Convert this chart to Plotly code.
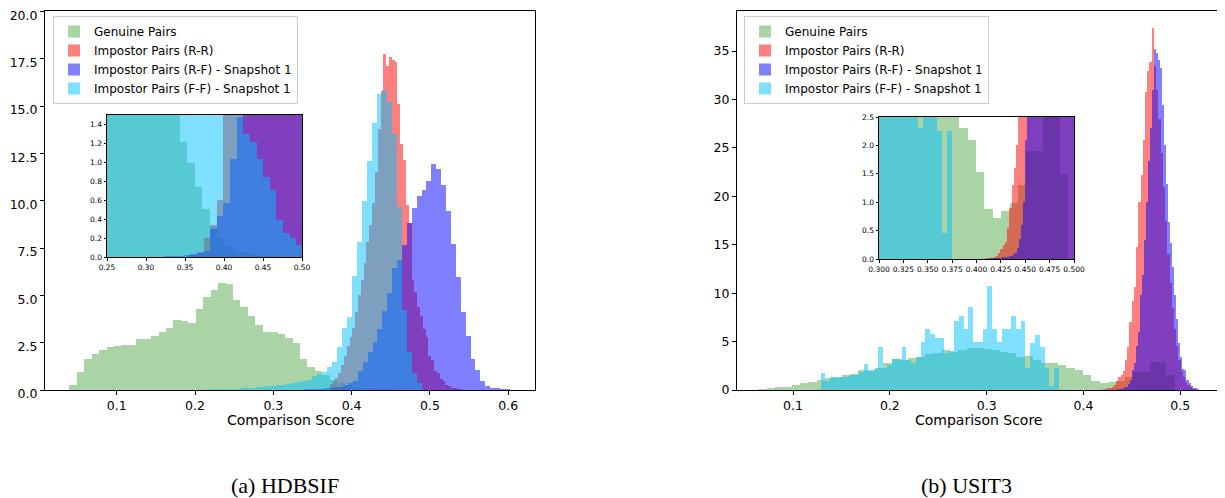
import numpy as np
import plotly.graph_objects as go

# ---------------- labels ----------------
series_names = ["Genuine Pairs", "Impostor Pairs (R-R)",
                "Impostor Pairs (R-F) - Snapshot 1", "Impostor Pairs (F-F) - Snapshot 1"]
captions = ["(a) HDBSIF", "(b) USIT3"]
x_title = "Comparison Score"

# ---------------- (a) HDBSIF : histogram bins (start, width) and densities ----------------
a_gen_bins = (0.0395, 0.0095)
a_gen = [0.25, 0.95, 1.62, 1.88, 2.09, 2.25, 2.30, 2.36, 2.36, 2.67,
         2.67, 2.83, 3.04, 3.29, 3.68, 3.62, 3.52, 4.29, 4.93, 5.26,
         5.63, 5.59, 4.73, 4.38, 3.90, 3.41, 3.04, 3.04, 2.94, 2.74,
         2.46, 1.65, 1.23, 1.00, 0.78, 0.55, 0.36, 0.25, 0.18, 0.12,
         0.08, 0.06, 0.04, 0.03, 0.02, 0.015, 0.01, 0.005, 0.003, 0.002]
a_rr_bins = (0.3721, 0.0036)
a_rr = [0.3, 0.45, 0.65, 0.9, 1.3, 1.8, 2.3, 2.8, 3.3, 4.1,
        5.0, 5.8, 6.7, 7.8, 8.7, 9.9, 11.5, 13.8, 15.8, 17.77,
        17.1, 17.6, 17.45, 17.3, 15.13, 13.0, 12.14, 9.76, 8.8, 5.8,
        5.2, 4.4, 3.9, 3.2, 2.8, 1.8, 1.6, 1.0, 0.9, 0.56,
        0.45, 0.26, 0.2, 0.12, 0.08, 0.05, 0.03, 0.02, 0.01, 0.01]
a_rf_bins = (0.314, 0.00626)
a_rf = [0.01, 0.01, 0.02, 0.02, 0.03, 0.04, 0.05, 0.07, 0.09, 0.11,
        0.14, 0.18, 0.26, 0.39, 0.49, 1.0, 1.5, 2.02, 2.55, 3.2,
        4.19, 5.1, 6.42, 6.86, 7.65, 8.8, 9.59, 10.24, 10.55, 11.03,
        11.96, 11.70, 10.85, 9.45, 7.70, 5.98, 4.10, 2.85, 1.62, 1.06,
        0.49, 0.21, 0.12, 0.08, 0.05, 0.03, 0.02, 0.01, 0.01, 0.01]
a_ff_bins = (0.1696, 0.0064)
a_ff = [0.01, 0.01, 0.01, 0.01, 0.02, 0.02, 0.02, 0.03, 0.03, 0.04,
        0.04, 0.05, 0.05, 0.06, 0.08, 0.1, 0.13, 0.15, 0.18, 0.2,
        0.22, 0.25, 0.28, 0.3, 0.35, 0.42, 0.5, 0.55, 0.75, 0.85,
        0.95, 1.2, 1.5, 2.29, 3.25, 3.87, 6.0, 7.83, 9.97, 12.08,
        14.1, 15.66, 15.87, 15.2, 13.5, 9.67, 4.2, 2.0, 0.9, 0.35]

# inset of (a), as drawn in the zoomed panel
a_in_gen_bins = (0.2486, 0.0095)
a_in_gen = [3.0, 3.0, 3.0, 3.0, 3.0, 3.0, 3.0, 3.0, 3.0, 3.0,
            1.21, 0.99, 0.74, 0.51, 0.32, 0.2, 0.12, 0.08, 0.05, 0.03,
            0.02, 0.01, 0.01, 0.005, 0.005, 0.005, 0.005]
a_in_bins = (0.2463, 0.0085)
a_in_rr = [0, 0, 0, 0, 0, 0, 0, 0, 0, 0,
           0, 0, 0, 0.02, 0.05, 0.2, 0.34, 0.6, 3.0, 3.0,
           3.0, 3.0, 3.0, 3.0, 3.0, 3.0, 3.0, 3.0, 3.0, 3.0, 3.0]
a_in_rf = [0, 0, 0, 0, 0, 0, 0, 0, 0, 0.01,
           0.01, 0.015, 0.02, 0.03, 0.04, 0.06, 0.3, 0.43, 0.57, 1.04,
           1.48, 3.0, 3.0, 3.0, 3.0, 3.0, 3.0, 3.0, 3.0, 3.0, 3.0]
a_in_ff = [3.0, 3.0, 3.0, 3.0, 3.0, 3.0, 3.0, 3.0, 3.0, 3.0,
           3.0, 3.0, 3.0, 3.0, 3.0, 3.0, 3.0, 3.0, 3.0, 3.0,
           3.0, 1.3, 1.22, 1.03, 0.85, 0.71, 0.39, 0.25, 0.2, 0.13, 0.1]

# ---------------- (b) USIT3 ----------------
b_gen_bins = (0.0642, 0.0086)
b_gen = [0.07, 0.17, 0.28, 0.34, 0.52, 0.69, 0.79, 1.03, 1.2, 1.38,
         1.55, 1.65, 2.06, 2.0, 2.24, 2.75, 3.16, 3.1, 3.27, 3.37,
         3.72, 3.78, 4.13, 3.96, 4.13, 4.3, 4.3, 4.2, 4.13, 3.96,
         3.78, 3.44, 3.5, 3.1, 2.75, 2.75, 2.6, 2.30, 2.09, 1.54,
         0.88, 0.72, 0.85, 0.98, 1.3, 1.9, 1.9, 2.9, 2.9, 1.5]
b_rr_bins = (0.4084, 0.0023)
b_rr = [0.01, 0.01, 0.02, 0.02, 0.04, 0.06, 0.1, 0.18, 0.25, 0.3,
        0.55, 0.9, 1.3, 1.6, 2.0, 3.1, 4.47, 7.05, 9.19, 10.6,
        14.8, 19.4, 22.2, 25.8, 30.8, 32.9, 33.9, 37.4, 33.5, 31.0,
        28.0, 24.5, 21.0, 17.5, 14.0, 11.0, 8.5, 6.3, 4.5, 3.1,
        2.0, 1.3, 0.8, 0.5, 0.3, 0.15, 0.1, 0.05, 0.03, 0.02]
b_rf_bins = (0.414, 0.0021)
b_rf = [0.01, 0.01, 0.01, 0.02, 0.02, 0.02, 0.03, 0.03, 0.04, 0.05,
        0.06, 0.08, 0.1, 0.2, 0.35, 0.6, 1.0, 2.1, 2.75, 4.5,
        6.0, 9.8, 11.9, 15.5, 19.4, 23.6, 27.0, 31.0, 35.2, 34.8,
        34.1, 33.2, 29.4, 25.3, 21.3, 17.3, 15.2, 12.7, 9.8, 7.3,
        4.9, 3.4, 2.2, 2.1, 1.0, 0.7, 0.4, 0.24, 0.17, 0.08]
b_ff_bins = (0.1285, 0.00492)
b_ff = [1.72, 0.9, 1.3, 1.2, 1.35, 1.35, 1.5, 1.55, 1.9, 2.68,
        2.1, 2.2, 4.4, 2.3, 2.6, 3.16, 3.2, 4.4, 3.1, 2.8,
        3.4, 5.0, 6.26, 5.78, 5.33, 5.33, 3.8, 4.0, 7.16, 7.64,
        6.3, 8.53, 5.0, 5.0, 6.3, 10.73, 6.26, 5.0, 6.26, 6.3,
        7.64, 6.26, 7.16, 2.3, 4.88, 5.68, 4.4, 2.25, 0.46, 2.25]

# ---------------- styles ----------------
COLORS = ["rgba(85,170,75,0.5)", "rgba(255,0,0,0.5)", "rgba(0,0,255,0.5)", "rgba(0,191,255,0.5)"]
FONT = "DejaVu Sans"
OFF = 8                 # the page body margin shifts the figure by 8 px
W, H = 1225 - OFF, 498 - OFF


def hist(values, bins, color, name, xa, ya, legend=None, showlegend=False):
    start, width = bins
    v = np.asarray(values, dtype=float)
    centers = start + width * (np.arange(len(v)) + 0.5)
    kw = dict(legend=legend) if legend else {}
    return go.Bar(x=centers, y=v, width=width, name=name,
                  marker=dict(color=color, line=dict(width=0)),
                  xaxis=xa, yaxis=ya, showlegend=showlegend, hoverinfo="skip", **kw)


fig = go.Figure()
# (a) main
for vals, bins, c, n in zip([a_gen, a_rr, a_rf, a_ff], [a_gen_bins, a_rr_bins, a_rf_bins, a_ff_bins],
                            COLORS, series_names):
    fig.add_trace(hist(vals, bins, c, n, "x", "y", legend="legend", showlegend=True))
# (a) inset
for vals, bins, c, n in zip([a_in_gen, a_in_rr, a_in_rf, a_in_ff],
                            [a_in_gen_bins, a_in_bins, a_in_bins, a_in_bins], COLORS, series_names):
    fig.add_trace(hist(vals, bins, c, n, "x2", "y2"))
# (b) main
for vals, bins, c, n in zip([b_gen, b_rr, b_rf, b_ff], [b_gen_bins, b_rr_bins, b_rf_bins, b_ff_bins],
                            COLORS, series_names):
    fig.add_trace(hist(vals, bins, c, n, "x3", "y3", legend="legend2", showlegend=True))
# (b) inset (same data, zoomed)
for vals, bins, c, n in zip([b_gen, b_rr, b_rf, b_ff], [b_gen_bins, b_rr_bins, b_rf_bins, b_ff_bins],
                            COLORS, series_names):
    fig.add_trace(hist(vals, bins, c, n, "x4", "y4"))


def fx(p):
    return (p - OFF) / W


def fy(p):
    return (H - (p - OFF)) / H


def px_x(a, b):
    return [fx(a), fx(b)]


def px_y(top, bottom):
    return [fy(bottom), fy(top)]


def axis(domain, rng, dtick, fmt, anchor, size=12.5, ticklen=4, shift=0):
    return dict(domain=domain, range=rng, dtick=dtick, tick0=0, tickformat=fmt, anchor=anchor,
                automargin=False, ticklabeloverflow="allow", ticklabelshift=shift,
                showline=True, linecolor="black", linewidth=1, mirror=True,
                ticks="outside", ticklen=ticklen, tickwidth=1, tickcolor="black",
                showgrid=False, zeroline=False, fixedrange=True,
                tickfont=dict(family=FONT, size=size, color="black"))


legend_style = dict(bgcolor="rgba(255,255,255,0.85)", bordercolor="#cccccc", borderwidth=1,
                    font=dict(family=FONT, size=12, color="black"),
                    xanchor="left", yanchor="top", tracegroupgap=0, itemclick=False)

fig.update_layout(
    template="none",
    width=W, height=H, autosize=False,
    margin=dict(l=0, r=0, t=0, b=0, pad=0),
    paper_bgcolor="white", plot_bgcolor="white",
    barmode="overlay", bargap=0,
    font=dict(family=FONT, color="black"),
    xaxis=axis(px_x(45, 535), [0.0084, 0.6342], 0.1, ".1f", "y"),
    yaxis=axis(px_y(11, 390), [0, 20.02], 2.5, ".1f", "x", shift=4),
    xaxis2=axis(px_x(107, 302), [0.25, 0.5], 0.05, ".2f", "y2", size=7.5, ticklen=2.5),
    yaxis2=axis(px_y(115, 257), [0, 1.5], 0.2, ".1f", "x2", size=7.5, ticklen=2.5),
    xaxis3=axis(px_x(737, 1219), [0.0421, 0.540], 0.1, ".1f", "y3"),
    yaxis3=axis(px_y(11, 390), [0, 39.13], 5, "d", "x3"),
    xaxis4=axis(px_x(879, 1074), [0.3, 0.5], 0.025, ".3f", "y4", size=7.5, ticklen=2.5),
    yaxis4=axis(px_y(117, 259), [0, 2.5], 0.5, ".1f", "x4", size=7.5, ticklen=2.5),
    legend=dict(x=fx(53), y=fy(16), **legend_style),
    legend2=dict(x=fx(744), y=fy(16), **legend_style),
)

annotations = [
    dict(text=x_title, x=fx(290), y=fy(420)),
    dict(text=x_title, x=fx(978), y=fy(420)),
]
for a in annotations:
    a.update(xref="paper", yref="paper", showarrow=False, xanchor="center", yanchor="middle",
             font=dict(family=FONT, size=14, color="black"))
for text, cx in zip(captions, [285, 966]):
    annotations.append(dict(text=text, x=fx(cx), y=fy(485), xref="paper", yref="paper",
                            showarrow=False, xanchor="center", yanchor="middle",
                            font=dict(family="Liberation Serif", size=22, color="black")))
fig.update_layout(annotations=annotations)

fig.write_html("out.html")
